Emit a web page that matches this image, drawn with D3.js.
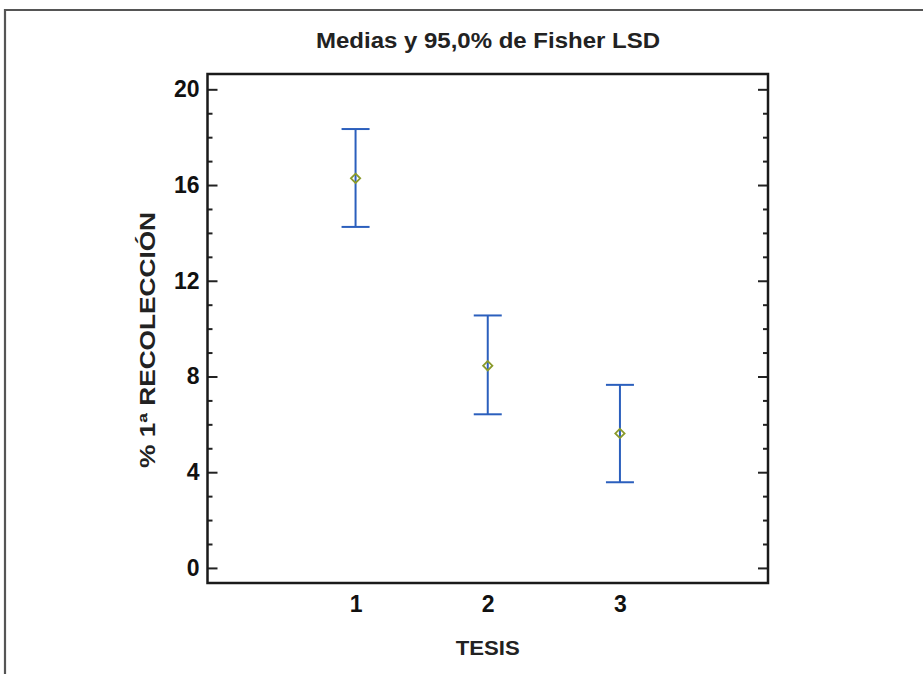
<!DOCTYPE html>
<html><head><meta charset="utf-8">
<script src="https://cdn.jsdelivr.net/npm/d3@7"></script>
<style>html,body{margin:0;padding:0;background:#fff;}svg{display:block;}</style>
</head><body>
<script>
const categories = [1, 2, 3];
const means = [16.28, 8.45, 5.62];
const lower = [14.25, 6.42, 3.58];
const upper = [18.34, 10.55, 7.65];
const yTicks = [0, 4, 8, 12, 16, 20];
const title = "Medias y 95,0% de Fisher LSD";
const xTitle = "TESIS";
const yTitle = "% 1ª RECOLECCIÓN";

(function(){
const W = 923, H = 674;
const pLeft = 207.5, pRight = 768, pTop = 74, pBottom = 583;
const svg = d3.select("body").append("svg").attr("width", W).attr("height", H);

svg.append("path").attr("d", `M5,${H} L5,10 L${W},10`).attr("fill","none")
  .attr("stroke","#555").attr("stroke-width",2.2);

const x = d3.scaleLinear().domain([-0.12, 4.12]).range([pLeft, pRight]);
const y = d3.scaleLinear().domain([-0.63, 20.64]).range([pBottom, pTop]);

const font = "'Liberation Sans', Arial, sans-serif";

const gL = svg.append("g").attr("transform", `translate(${pLeft},0)`)
  .call(d3.axisLeft(y).tickValues(yTicks).tickSize(-10).tickPadding(8).tickFormat(d3.format("d")));
gL.select(".domain").remove();
gL.selectAll("line").attr("stroke","#222").attr("stroke-width",2);
gL.selectAll("text").attr("font-family", font).attr("font-size", 23).attr("font-weight","bold").attr("fill","#111");
const minor = d3.range(0, 21).filter(v => v % 4 !== 0);
const gLm = svg.append("g").attr("transform", `translate(${pLeft},0)`)
  .call(d3.axisLeft(y).tickValues(minor).tickSize(-5).tickFormat(""));
gLm.select(".domain").remove();
gLm.selectAll("line").attr("stroke","#222").attr("stroke-width",2);

const gR = svg.append("g").attr("transform", `translate(${pRight},0)`)
  .call(d3.axisRight(y).tickValues(yTicks).tickSize(-10).tickFormat(""));
gR.select(".domain").remove();
gR.selectAll("line").attr("stroke","#222").attr("stroke-width",2);
const gRm = svg.append("g").attr("transform", `translate(${pRight},0)`)
  .call(d3.axisRight(y).tickValues(minor).tickSize(-5).tickFormat(""));
gRm.select(".domain").remove();
gRm.selectAll("line").attr("stroke","#222").attr("stroke-width",2);

const gB = svg.append("g").attr("transform", `translate(0,${pBottom})`)
  .call(d3.axisBottom(x).tickValues(categories).tickSize(0).tickPadding(13).tickFormat(d3.format("d")));
gB.select(".domain").remove();
gB.selectAll("text").attr("font-family", font).attr("font-size", 23).attr("font-weight","bold").attr("fill","#111");

svg.append("rect").attr("x", pLeft).attr("y", pTop).attr("width", pRight-pLeft).attr("height", pBottom-pTop)
  .attr("fill","none").attr("stroke","#1a1a1a").attr("stroke-width",2.5);

const capHalf = 14;
const bars = svg.append("g");
categories.forEach((c, i) => {
  const cx = x(c);
  bars.append("line").attr("x1",cx).attr("x2",cx).attr("y1",y(lower[i])).attr("y2",y(upper[i]))
    .attr("stroke","#2b5fbd").attr("stroke-width",2);
  bars.append("line").attr("x1",cx-capHalf).attr("x2",cx+capHalf).attr("y1",y(lower[i])).attr("y2",y(lower[i]))
    .attr("stroke","#2b5fbd").attr("stroke-width",2);
  bars.append("line").attr("x1",cx-capHalf).attr("x2",cx+capHalf).attr("y1",y(upper[i])).attr("y2",y(upper[i]))
    .attr("stroke","#2b5fbd").attr("stroke-width",2);
  bars.append("path").attr("d", d3.symbol(d3.symbolDiamond2, 55)())
    .attr("transform", `translate(${cx},${y(means[i])})`)
    .attr("fill","none").attr("stroke","#8a9a2a").attr("stroke-width",1.8);
});

svg.append("text").attr("x", 488).attr("y", 48).attr("text-anchor","middle")
  .attr("font-family", font).attr("font-size", 22).attr("font-weight","bold").attr("fill","#222")
  .attr("textLength", 344).attr("lengthAdjust","spacingAndGlyphs")
  .text(title);
svg.append("text").attr("x", x(2)).attr("y", 655).attr("text-anchor","middle")
  .attr("font-family", font).attr("font-size", 21).attr("font-weight","bold").attr("fill","#222")
  .attr("textLength", 64).attr("lengthAdjust","spacingAndGlyphs")
  .text(xTitle);
svg.append("text").attr("transform", `translate(155,340) rotate(-90)`).attr("text-anchor","middle")
  .attr("font-family", font).attr("font-size", 22).attr("font-weight","bold").attr("fill","#222")
  .attr("textLength", 256).attr("lengthAdjust","spacingAndGlyphs")
  .text(yTitle);
})();
</script>
</body></html>
